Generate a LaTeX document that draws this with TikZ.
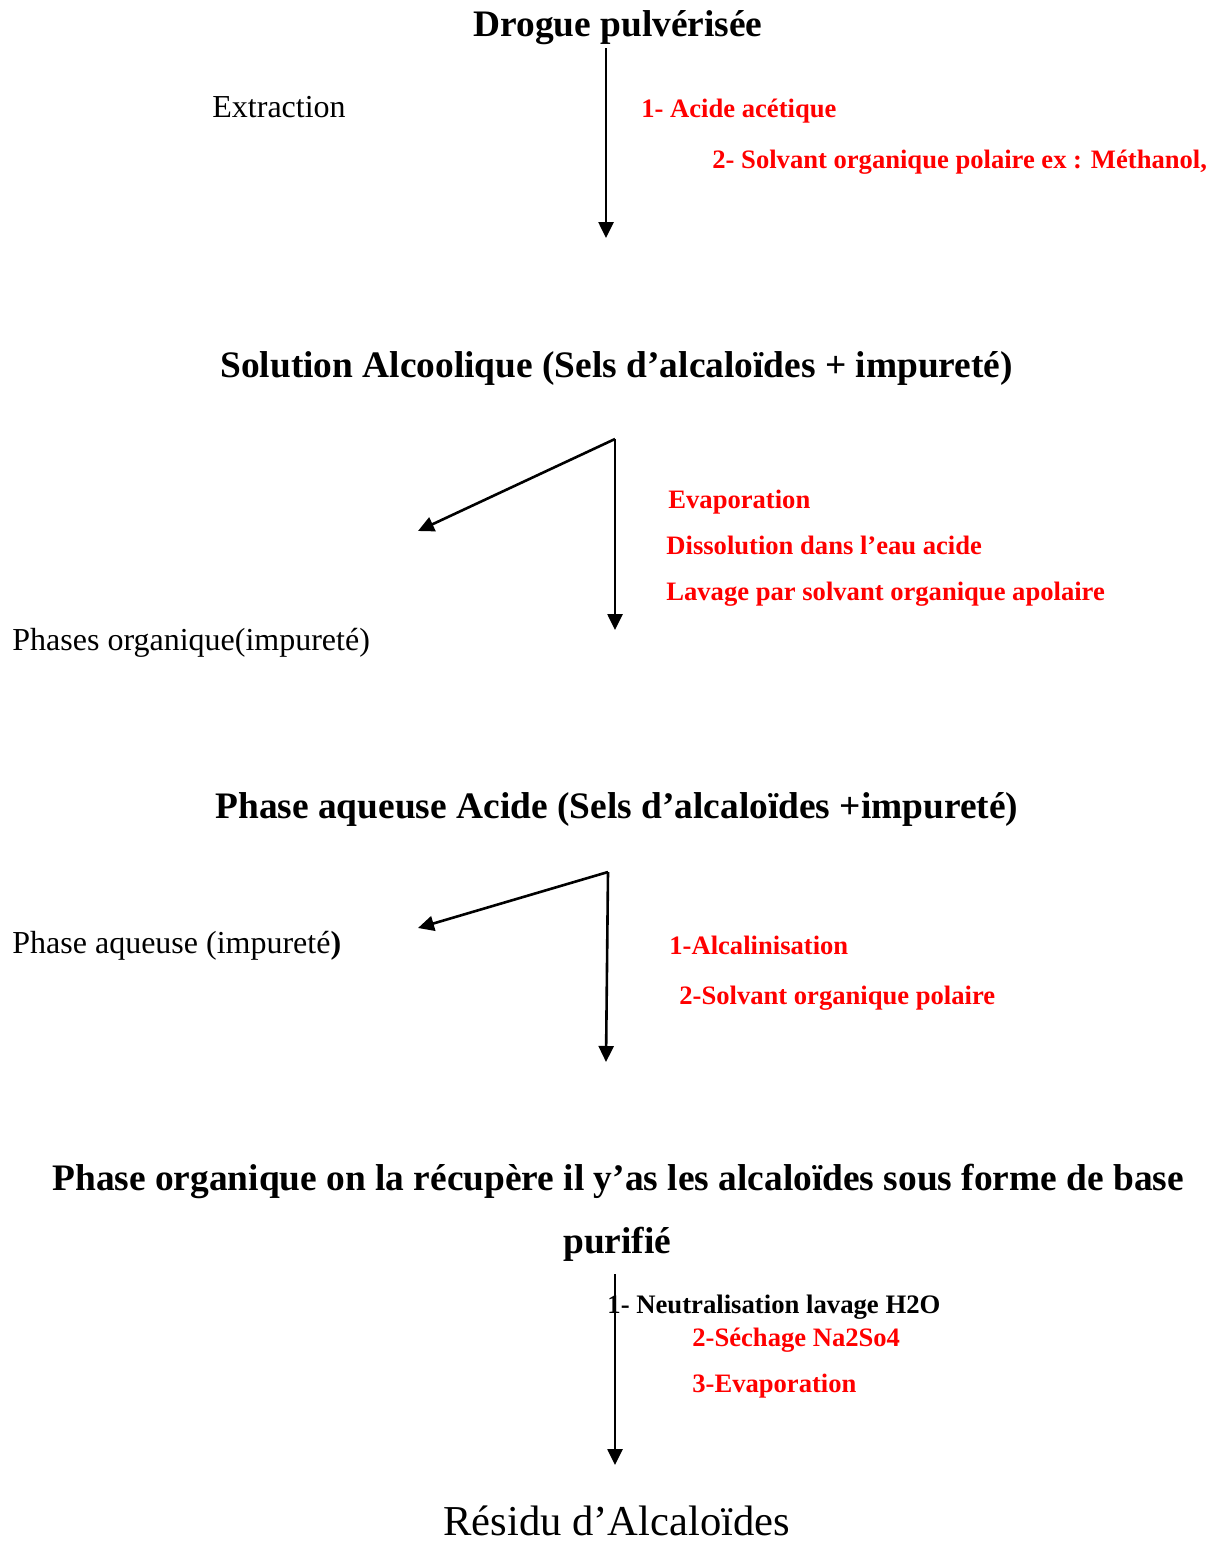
\documentclass[tikz,border=0pt]{standalone}
\usepackage{fontspec}
\setmainfont{Liberation Serif}
\usetikzlibrary{arrows.meta}
\definecolor{redt}{RGB}{255,0,0}
\begin{document}
\begin{tikzpicture}[x=0.5pt,y=-0.5pt,
 lbl/.style={inner sep=0pt, anchor=base west},
 ttl/.style={inner sep=0pt, anchor=base west, font=\bfseries\fontsize{18.7}{22}\selectfont},
 rtxt/.style={lbl, text=redt, font=\bfseries\fontsize{13.3}{16}\selectfont},
 btxt/.style={lbl, font=\bfseries\fontsize{13.35}{16}\selectfont},
 ntxt/.style={lbl, font=\fontsize{16}{19}\selectfont},
 arr/.style={line width=1.3pt, -{Triangle[length=8pt,width=7.5pt]}}]
\useasboundingbox (0,0) rectangle (1217,1542);

% titles
\node[ttl] (t1) at (473,36) {Drogue pulvérisée};
\node[ttl] (t2) at (220,377) {Solution Alcoolique (Sels d’alcaloïdes + impureté)};
\node[ttl] (t3) at (215,818) {Phase aqueuse Acide (Sels d’alcaloïdes +impureté)};
\node[ttl] (t4) at (52,1190) {Phase organique on la récupère il y’as les alcaloïdes sous forme de base};
\node[ttl] (t4b) at (563,1253) {purifié};
\node[lbl, font=\fontsize{21.3}{24}\selectfont] (t5) at (443,1535) {Résidu d’Alcaloïdes};

% step 1
\coordinate (a1s) at (606,48);
\coordinate (a1e) at (606,238);
\draw[arr] (a1s) -- (a1e);
\node[ntxt] (ext) at (212,117) {Extraction};
\node[rtxt] (r11) at (641,117) {1- Acide acétique};
\node[rtxt] (r12) at (712,168) {2- Solvant organique polaire ex : Méthanol,};

% step 2
\coordinate (f1) at (615,439);
\coordinate (f1l) at (418,531);
\coordinate (f1d) at (615,630);
\draw[arr] (f1) -- (f1l);
\draw[arr] (f1) -- (f1d);
\node[rtxt] (r21) at (668,508) {Evaporation};
\node[rtxt] (r22) at (666,554) {Dissolution dans l’eau acide};
\node[rtxt] (r23) at (666,600) {Lavage par solvant organique apolaire};
\node[ntxt] (po) at (12,650) {Phases organique(impureté)};

% step 3
\coordinate (f2) at (608,872);
\coordinate (f2l) at (418,928);
\coordinate (f2d) at (606,1062);
\draw[arr] (f2) -- (f2l);
\draw[arr] (f2) -- (f2d);
\node[ntxt] (pa) at (12,953) {Phase aqueuse (impureté\textbf{)}};
\node[rtxt] (r31) at (669,954) {1-Alcalinisation};
\node[rtxt] (r32) at (679,1004) {2-Solvant organique polaire};

% step 4
\coordinate (a4s) at (615,1274);
\coordinate (a4e) at (615,1465);
\draw[arr] (a4s) -- (a4e);
\node[btxt] (b41) at (607,1313) {1- Neutralisation lavage H2O};
\node[rtxt] (r42) at (692,1346) {2-Séchage Na2So4};
\node[rtxt] (r43) at (692,1392) {3-Evaporation};
\end{tikzpicture}
\end{document}
